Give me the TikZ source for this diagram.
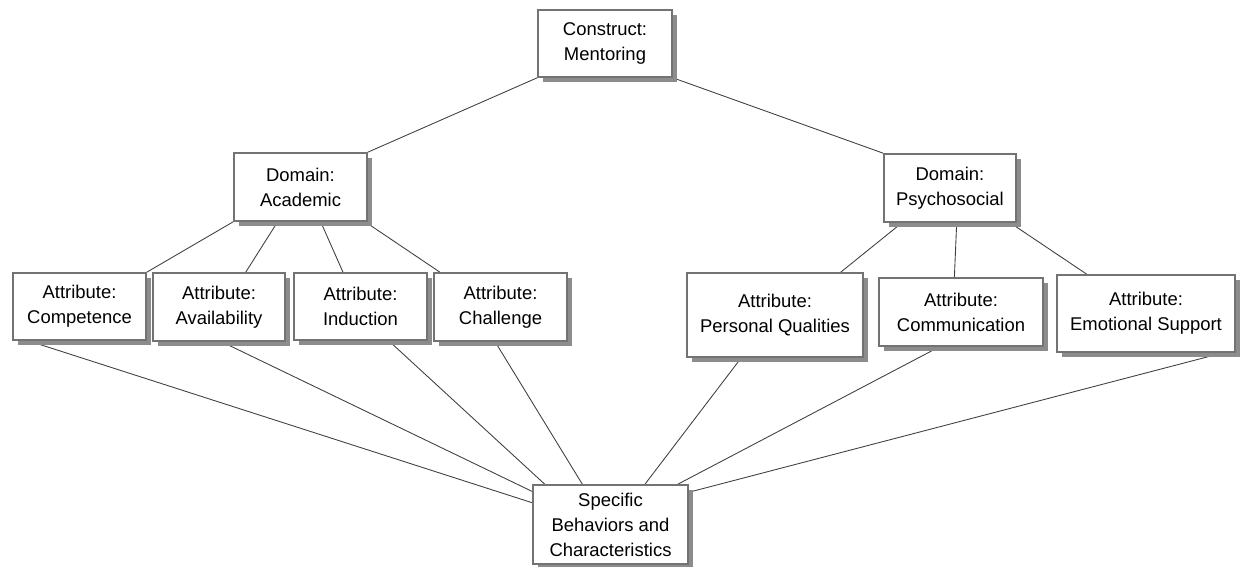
\documentclass[tikz,border=0pt]{standalone}
\usepackage{fontspec}
\setmainfont{Liberation Sans}
\usetikzlibrary{calc,shadows,backgrounds}

\begin{document}
\begin{tikzpicture}[x=0.02cm, y=-0.02cm,
    box/.style={draw=black!55, line width=0.9pt, fill=white, align=center, inner sep=0pt,
      font=\fontsize{10.5}{14.2}\selectfont,
      drop shadow={shadow xshift=0.1cm, shadow yshift=-0.1cm, fill=black!45, opacity=1}},
    link/.style={draw=black!75, line width=0.5pt}]
  \useasboundingbox (0,0) rectangle (1243,567);
  % top and domains
  \node[box, minimum width=2.68cm, minimum height=1.34cm] (cons) at (605,43.5) {Construct:\\Mentoring};
  \node[box, minimum width=2.66cm, minimum height=1.36cm] (acad) at (300.5,187) {Domain:\\Academic};
  \node[box, minimum width=2.64cm, minimum height=1.36cm] (psy) at (950,188) {Domain:\\Psychosocial};
  % attributes
  \node[box, minimum width=2.66cm, minimum height=1.34cm] (comp) at (79.5,306.5) {Attribute:\\Competence};
  \node[box, minimum width=2.64cm, minimum height=1.36cm] (avail) at (219,307) {Attribute:\\Availability};
  \node[box, minimum width=2.66cm, minimum height=1.34cm] (induc) at (360.5,306.5) {Attribute:\\Induction};
  \node[box, minimum width=2.66cm, minimum height=1.36cm] (chal) at (500.5,307) {Attribute:\\Challenge};
  \node[box, minimum width=3.52cm, minimum height=1.68cm] (qual) at (775,315) {Attribute:\\Personal Qualities};
  \node[box, minimum width=3.28cm, minimum height=1.36cm] (comm) at (961,312) {Attribute:\\Communication};
  \node[box, minimum width=3.56cm, minimum height=1.54cm] (emot) at (1146,313.5) {Attribute:\\Emotional Support};
  % bottom
  \node[box, minimum width=3.10cm, minimum height=1.58cm] (spec) at (610.5,524.5) {Specific\\Behaviors and\\Characteristics};

  \begin{scope}[on background layer]
    \draw[link] (cons.south west) -- (acad.north east);
    \draw[link] (cons.south east) -- (psy.north west);
    \draw[link] (acad.south west) -- (comp.north east);
    \draw[link] ($(acad.south west)!0.33!(acad.south east)$) -- ($(avail.north west)!0.7!(avail.north east)$);
    \draw[link] ($(acad.south west)!0.65!(acad.south east)$) -- ($(induc.north west)!0.37!(induc.north east)$);
    \draw[link] ($(acad.south west)!0.98!(acad.south east)$) -- ($(chal.north west)!0.05!(chal.north east)$);
    \draw[link] ($(psy.south west)!0.14!(psy.south east)$) -- ($(qual.north west)!0.87!(qual.north east)$);
    \draw[link] ($(psy.south west)!0.55!(psy.south east)$) -- ($(comm.north west)!0.46!(comm.north east)$);
    \draw[link] ($(psy.south west)!0.95!(psy.south east)$) -- ($(emot.north west)!0.17!(emot.north east)$);
    % to the behaviours
    \draw[link] ($(comp.south west)!0.12!(comp.south east)$) -- ($(spec.north west)!0.23!(spec.south west)$);
    \draw[link] ($(avail.south west)!0.52!(avail.south east)$) -- ($(spec.north west)!0.09!(spec.south west)$);
    \draw[link] ($(induc.south west)!0.71!(induc.south east)$) -- ($(spec.north west)!0.08!(spec.north east)$);
    \draw[link] ($(chal.south west)!0.46!(chal.south east)$) -- ($(spec.north west)!0.32!(spec.north east)$);
    \draw[link] ($(qual.south west)!0.31!(qual.south east)$) -- ($(spec.north west)!0.72!(spec.north east)$);
    \draw[link] ($(comm.south west)!0.37!(comm.south east)$) -- ($(spec.north west)!0.93!(spec.north east)$);
    \draw[link] ($(emot.south west)!0.93!(emot.south east)$) -- ($(spec.north east)!0.10!(spec.south east)$);
  \end{scope}
\end{tikzpicture}
\end{document}
